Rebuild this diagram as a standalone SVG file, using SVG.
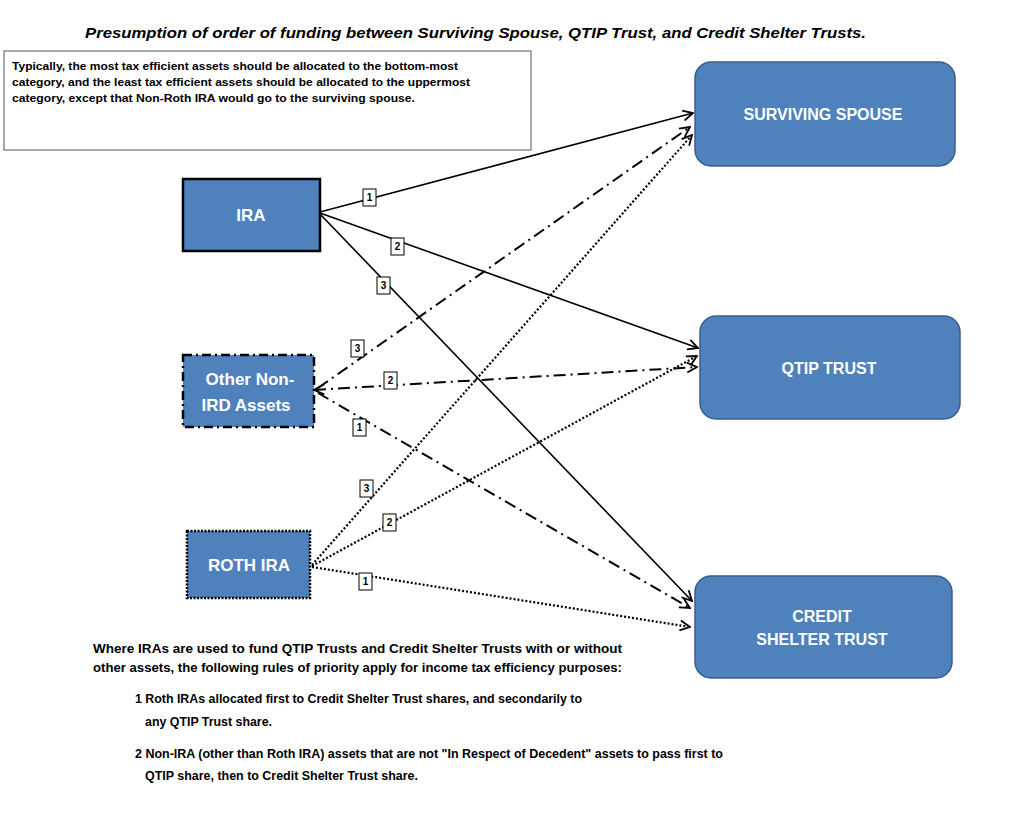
<svg xmlns="http://www.w3.org/2000/svg" width="1024" height="828" viewBox="0 0 1024 828">
<defs>
<style>
.t{font-family:"Liberation Sans",Arial,sans-serif;font-weight:bold;fill:#000}
.nt{font-family:"Liberation Sans",Arial,sans-serif;font-weight:bold;fill:#fff;text-anchor:middle}
.rn{fill:#4F81BD;stroke:#385D8A;stroke-width:1.5}
.ln{fill:none;stroke:#000;stroke-width:1.6}
.dd{stroke-dasharray:12,5,2,5;stroke-width:2}
.dt{stroke-dasharray:2,2;stroke-width:2.2}
.lb rect{fill:#fff;stroke:#000;stroke-width:1}
.lb text{font-family:"Liberation Sans",Arial,sans-serif;font-weight:bold;font-size:10px;text-anchor:middle}
</style>
<marker id="ah" viewBox="0 0 12 12" refX="11" refY="6" markerWidth="12" markerHeight="12" markerUnits="userSpaceOnUse" orient="auto-start-reverse">
<path d="M1,1 L11,6 L1,11" fill="none" stroke="#000" stroke-width="1.8" stroke-dasharray="none"/>
</marker>
</defs>
<rect width="1024" height="828" fill="#fff"/>
<text class="t" x="85" y="38" font-size="15" font-style="italic" textLength="781" lengthAdjust="spacingAndGlyphs">Presumption of order of funding between Surviving Spouse, QTIP Trust, and Credit Shelter Trusts.</text>
<g id="note">
<rect x="4" y="51" width="527" height="99" fill="#fff" stroke="#555" stroke-width="1"/>
<text class="t" x="12" y="70" font-size="11.5" textLength="446" lengthAdjust="spacingAndGlyphs">Typically, the most tax efficient assets should be allocated to the bottom-most</text>
<text class="t" x="12" y="86" font-size="11.5" textLength="458" lengthAdjust="spacingAndGlyphs">category, and the least tax efficient assets should be allocated to the uppermost</text>
<text class="t" x="12" y="102" font-size="11.5" textLength="403" lengthAdjust="spacingAndGlyphs">category, except that Non-Roth IRA would go to the surviving spouse.</text>
</g>
<g id="connectors">
<line class="ln" x1="320" y1="212" x2="693" y2="113" marker-end="url(#ah)"/>
<line class="ln" x1="320" y1="213" x2="698" y2="348" marker-end="url(#ah)"/>
<line class="ln" x1="320" y1="214" x2="692" y2="601" marker-end="url(#ah)"/>
<line class="ln dd" x1="318" y1="388" x2="690" y2="127" marker-end="url(#ah)"/>
<line class="ln dd" x1="314" y1="390" x2="697" y2="367" marker-start="url(#ah)" marker-end="url(#ah)"/>
<line class="ln dd" x1="318" y1="393" x2="690" y2="608" marker-end="url(#ah)"/>
<line class="ln dt" x1="312" y1="565" x2="692" y2="135" marker-end="url(#ah)"/>
<line class="ln dt" x1="312" y1="566" x2="697" y2="356" marker-end="url(#ah)"/>
<line class="ln dt" x1="312" y1="567" x2="690" y2="627" marker-end="url(#ah)"/>
<g class="lb">
<rect x="363" y="189" width="13" height="17"/><text x="369.5" y="201">1</text>
<rect x="391" y="238" width="13" height="17"/><text x="397.5" y="250">2</text>
<rect x="377" y="277" width="13" height="17"/><text x="383.5" y="289">3</text>
<rect x="351" y="340" width="13" height="17"/><text x="357.5" y="352">3</text>
<rect x="384" y="372" width="13" height="17"/><text x="390.5" y="384">2</text>
<rect x="353" y="419" width="13" height="17"/><text x="359.5" y="431">1</text>
<rect x="360" y="480" width="13" height="17"/><text x="366.5" y="492">3</text>
<rect x="383" y="514" width="13" height="17"/><text x="389.5" y="526">2</text>
<rect x="359" y="573" width="13" height="17"/><text x="365.5" y="585">1</text>
</g>
</g>
<g id="ira">
<rect x="183" y="179" width="137" height="72" fill="#4F81BD" stroke="#000" stroke-width="2.5"/>
<text class="nt" x="251" y="221" font-size="17">IRA</text>
</g>
<g id="other">
<rect x="183" y="355" width="131" height="72" fill="#4F81BD" stroke="#000" stroke-width="2.5" stroke-dasharray="9,4,2,4"/>
<text class="nt" x="250" y="385" font-size="17">Other Non-</text>
<text class="nt" x="246" y="411" font-size="17">IRD  Assets</text>
</g>
<g id="roth">
<rect x="187" y="531" width="123" height="67" fill="#4F81BD" stroke="#000" stroke-width="2.5" stroke-dasharray="2,1.5"/>
<text class="nt" x="249" y="571" font-size="17">ROTH IRA</text>
</g>
<g id="spouse">
<rect class="rn" x="695" y="62" width="260" height="104" rx="16"/>
<text class="nt" x="823" y="120" font-size="16">SURVIVING SPOUSE</text>
</g>
<g id="qtip">
<rect class="rn" x="700" y="316" width="260" height="103" rx="16"/>
<text class="nt" x="829" y="374" font-size="16">QTIP TRUST</text>
</g>
<g id="credit">
<rect class="rn" x="695" y="576" width="257" height="102" rx="16"/>
<text class="nt" x="822" y="622" font-size="16">CREDIT</text>
<text class="nt" x="822" y="645" font-size="16">SHELTER TRUST</text>
</g>
<g id="rules">
<text class="t" x="93" y="653" font-size="12.5" textLength="529" lengthAdjust="spacingAndGlyphs">Where IRAs are used to fund QTIP Trusts and Credit Shelter Trusts with or without</text>
<text class="t" x="93" y="672" font-size="12.5" textLength="529" lengthAdjust="spacingAndGlyphs">other assets, the following rules of priority apply for income tax efficiency purposes:</text>
<text class="t" x="135" y="703" font-size="12.5" textLength="447" lengthAdjust="spacingAndGlyphs">1 Roth IRAs allocated first to Credit Shelter Trust shares, and secondarily to</text>
<text class="t" x="145" y="726" font-size="12.5" textLength="127" lengthAdjust="spacingAndGlyphs">any QTIP Trust share.</text>
<text class="t" x="135" y="758" font-size="12.5" textLength="588" lengthAdjust="spacingAndGlyphs">2 Non-IRA (other than Roth IRA) assets that are not "In Respect of Decedent" assets to pass first to</text>
<text class="t" x="145" y="780" font-size="12.5" textLength="273" lengthAdjust="spacingAndGlyphs">QTIP share, then to Credit Shelter Trust share.</text>
</g>
</svg>
